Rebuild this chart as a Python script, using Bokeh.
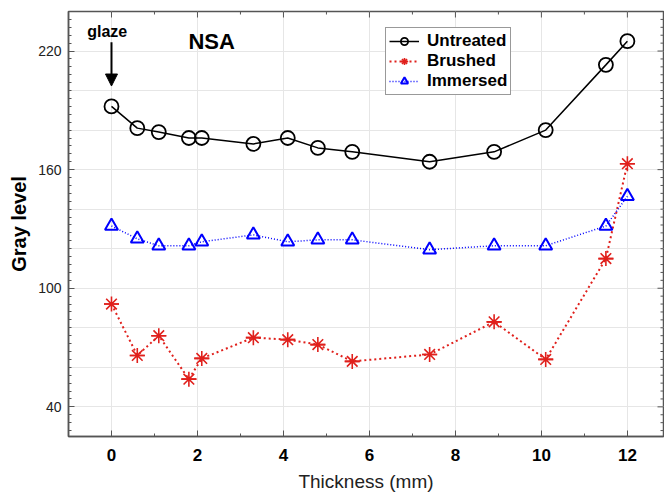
from bokeh.plotting import figure
from bokeh.models import (Range1d, FixedTicker, Legend, LegendItem,
                          Label, Arrow, NormalHead)
from bokeh.embed import file_html
from bokeh.resources import INLINE

# ---- data ----
thickness = [0, 0.6, 1.1, 1.8, 2.1, 3.3, 4.1, 4.8, 5.6, 7.4, 8.9, 10.1, 11.5, 12]
untreated = [192, 181, 179, 176, 176, 173, 176, 171, 169, 164, 169, 180, 213, 225]
brushed = [92, 66, 76, 54, 64.5, 75, 74, 71.5, 63, 66.5, 83, 64, 115, 163]
immersed = [131.5, 125, 121.5, 121.5, 123.5, 127, 123.5, 124.5, 124.5, 119.5, 121.5, 121.5, 131.5, 146.5]

x_ticks = [0, 2, 4, 6, 8, 10, 12]
x_minor = [-1, 1, 3, 5, 7, 9, 11]
y_labelled = [40, 100, 160, 220]
y_grid = [40, 60, 80, 100, 120, 140, 160, 180, 200, 220, 240]
y_minor = list(range(28, 241, 4))

X0, X1 = -1, 12.84
Y0, Y1 = 25, 240
FW, FH = 595, 425

FONT = "Liberation Sans"
AX = "#555555"

p = figure(width=664, height=492, output_backend="svg", toolbar_location=None,
           x_range=Range1d(X0, X1), y_range=Range1d(Y0, Y1),
           frame_width=FW, frame_height=FH,
           min_border_left=68, min_border_right=1, min_border_top=11,
           min_border_bottom=56, x_axis_label="Thickness (mm)",
           y_axis_label="Gray level")
p.background_fill_color = "white"
p.outline_line_color = AX
p.outline_line_width = 1.5

# grids
p.xgrid.grid_line_color = "#e6e6e6"
p.ygrid.grid_line_color = "#e6e6e6"
p.ygrid.ticker = FixedTicker(ticks=y_grid)

# x axis
xa = p.xaxis[0]
xa.ticker = FixedTicker(ticks=x_ticks, minor_ticks=x_minor)
xa.major_tick_in = 6
xa.major_tick_out = 0
xa.minor_tick_in = 3
xa.minor_tick_out = 0
xa.major_label_standoff = 12
xa.major_label_text_font = FONT
xa.major_label_text_font_style = "bold"
xa.major_label_text_font_size = "17px"
xa.major_label_text_color = "black"
xa.axis_label_text_font = FONT
xa.axis_label_text_font_style = "normal"
xa.axis_label_text_font_size = "19px"
xa.axis_label_text_color = "#222222"
xa.axis_label_standoff = 7
xa.axis_line_color = AX
xa.axis_line_width = 1.5
xa.major_tick_line_color = AX
xa.minor_tick_line_color = AX

# y axis
ya = p.yaxis[0]
ya.ticker = FixedTicker(ticks=y_labelled,
                        minor_ticks=[t for t in y_minor if t not in y_labelled])
ya.major_tick_in = 6
ya.major_tick_out = 0
ya.minor_tick_in = 3
ya.minor_tick_out = 0
ya.major_label_standoff = 7
ya.major_label_text_font = FONT
ya.major_label_text_font_size = "14px"
ya.major_label_text_color = "#222222"
ya.axis_label_text_font = FONT
ya.axis_label_text_font_style = "bold"
ya.axis_label_text_font_size = "20px"
ya.axis_label_text_color = "black"
ya.axis_label_standoff = 5
ya.axis_line_color = AX
ya.axis_line_width = 1.5
ya.major_tick_line_color = AX
ya.minor_tick_line_color = AX

# mirror tick marks on top and right edges (derived from tick lists)
ux = (X1 - X0) / FW   # data units per pixel, x
uy = (Y1 - Y0) / FH   # data units per pixel, y
p.segment(x0=x_ticks, y0=[Y1] * len(x_ticks), x1=x_ticks,
          y1=[Y1 - 6 * uy] * len(x_ticks), line_color=AX, line_width=1)
p.segment(x0=x_minor, y0=[Y1] * len(x_minor), x1=x_minor,
          y1=[Y1 - 3 * uy] * len(x_minor), line_color=AX, line_width=1)
p.segment(x0=[X1] * len(y_labelled), y0=y_labelled, x1=[X1 - 6 * ux] * len(y_labelled),
          y1=y_labelled, line_color=AX, line_width=1)
ym = [t for t in y_minor if t not in y_labelled]
p.segment(x0=[X1] * len(ym), y0=ym, x1=[X1 - 3 * ux] * len(ym),
          y1=ym, line_color=AX, line_width=1)

# series
BLUE = "#0000ff"
RED = "#e0201c"

l_u = p.line(thickness, untreated, line_color="black", line_width=1.5)
s_u = p.scatter(thickness, untreated, marker="circle", size=14, fill_color="white",
                fill_alpha=0, line_color="black", line_width=1.8)

l_b = p.line(thickness, brushed, line_color=RED, line_width=2, line_dash="2 3")
s_b1 = p.scatter(thickness, brushed, marker="asterisk", size=15, line_color=RED, line_width=1.6)
s_b2 = p.scatter(thickness, brushed, marker="dash", size=15, line_color=RED, line_width=1.6)

l_i = p.line(thickness, immersed, line_color=BLUE, line_width=1.5, line_dash="1 2")
s_i = p.scatter(thickness, immersed, marker="triangle", size=13, fill_color="white",
                fill_alpha=0, line_color=BLUE, line_width=2)

legend = Legend(items=[
    LegendItem(label="Untreated", renderers=[l_u, s_u]),
    LegendItem(label="Brushed", renderers=[l_b, s_b1, s_b2]),
    LegendItem(label="Immersed", renderers=[l_i, s_i]),
], location=(317, 341))
legend.label_text_font = FONT
legend.label_text_font_style = "bold"
legend.label_text_font_size = "17px"
legend.label_text_color = "black"
legend.glyph_width = 30
legend.glyph_height = 18
legend.label_height = 18
legend.label_standoff = 8
legend.padding = 3
legend.spacing = 0
legend.margin = 0
legend.border_line_color = "#333333"
legend.border_line_width = 1.5
legend.background_fill_color = "white"
legend.background_fill_alpha = 1
p.add_layout(legend)

# annotations
p.add_layout(Label(x=-0.1, y=230, text="glaze", text_font=FONT, text_font_style="bold",
                   text_font_size="16px", text_align="center", text_baseline="middle",
                   text_color="black"))
p.add_layout(Label(x=2.33, y=225, text="NSA", text_font=FONT, text_font_style="bold",
                   text_font_size="22px", text_align="center", text_baseline="middle",
                   text_color="black"))
p.add_layout(Arrow(x_start=0, y_start=224.5, x_end=0, y_end=202.3, line_width=2,
                   line_color="black",
                   end=NormalHead(size=12, fill_color="black", line_color="black")))

open("out.html", "w").write(file_html(p, INLINE))
